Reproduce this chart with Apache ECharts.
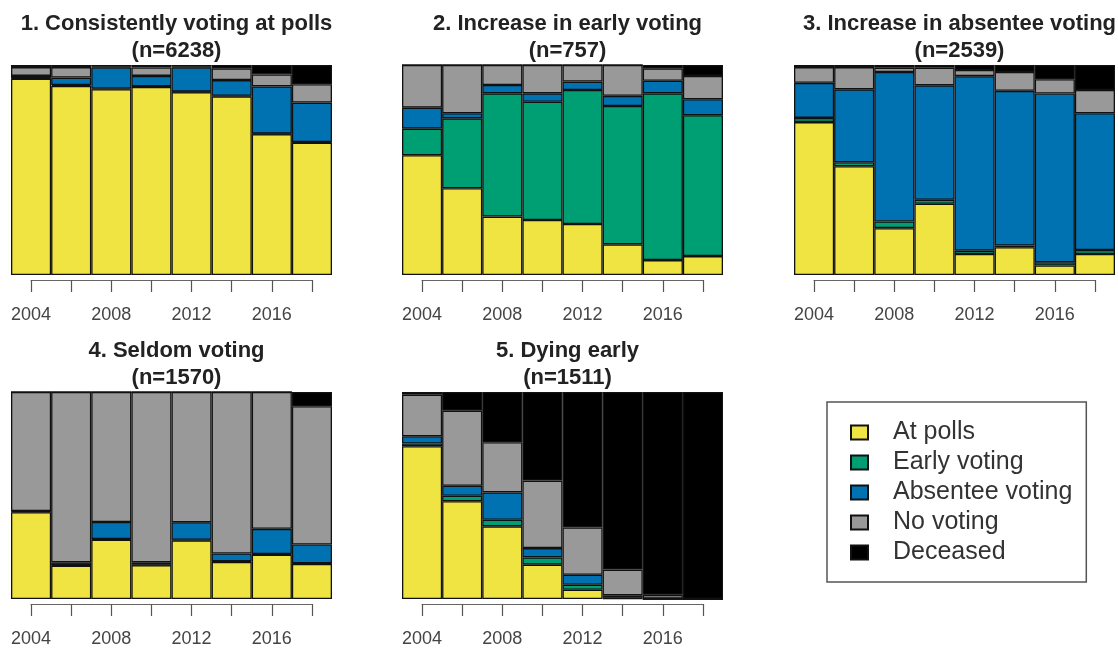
<!DOCTYPE html>
<html>
<head>
<meta charset="utf-8">
<script src="https://cdn.jsdelivr.net/npm/echarts@6/dist/echarts.min.js"></script>
<style>
  html, body { margin: 0; padding: 0; background: #fff; }
  #chart { width: 1118px; height: 649px; }
</style>
</head>
<body>
<div id="chart"></div>
<script>
// years on the x axis, every bar is one election
const years = ['2004', '2006', '2008', '2010', '2012', '2014', '2016', '2018'];
const seriesNames = ['At polls', 'Early voting', 'Absentee voting', 'No voting', 'Deceased'];
const colors = ['#F0E442', '#009E73', '#0072B2', '#999999', '#000000'];

const titles = [
  '1. Consistently voting at polls',
  '2. Increase in early voting',
  '3. Increase in absentee voting',
  '4. Seldom voting',
  '5. Dying early',
];
const sizes = [6238, 757, 2539, 1570, 1511];

// shares (%) per group
const polls1 = [93.5, 90, 88.5, 89.5, 87, 85, 67, 63];
const early1 = [0.3, 0.5, 0.3, 0.3, 0.3, 0.3, 0.3, 0.3];
const absentee1 = [1, 3.5, 10, 5, 11.5, 7.5, 22.5, 18.8];
const none1 = [4.2, 5, 0.5, 4, 0.5, 5.6, 5.7, 8.7];
const deceased1 = [1, 1, 0.7, 1.2, 0.7, 1.6, 4.5, 9.2];

const polls2 = [57, 41.3, 27.8, 26.2, 24.3, 14.6, 7.1, 9];
const early2 = [12.7, 33.3, 58.7, 56.3, 63.8, 65.9, 79.4, 67.1];
const absentee2 = [10, 2.4, 4, 4, 4, 4.8, 6, 7.6];
const none2 = [20.3, 23, 9.5, 13.5, 7.9, 14.7, 5.9, 11.1];
const deceased2 = [0, 0, 0, 0, 0, 0, 1.6, 5.2];

const polls3 = [72.8, 51.8, 22.3, 33.9, 10, 13.2, 4.5, 10];
const early3 = [2, 1.9, 3.2, 1.9, 1.6, 0.8, 1.6, 1.9];
const absentee3 = [16.7, 34.7, 71.2, 54.5, 83.1, 73.7, 80.3, 65.1];
const none3 = [7.5, 10.6, 2, 8.4, 2.9, 9, 6.8, 11.1];
const deceased3 = [1, 1, 1.3, 1.3, 2.4, 3.3, 6.8, 11.9];

const polls4 = [41.9, 16.1, 28.7, 16.3, 28.3, 17.9, 21.4, 16.9];
const early4 = [0.3, 0.2, 0.3, 0.2, 0.3, 0.3, 0.3, 0.3];
const absentee4 = [0.3, 1.4, 8.2, 1.2, 8.5, 3.8, 12.2, 9.1];
const none4 = [57.5, 82.3, 62.8, 82.3, 62.9, 78, 66.1, 66.8];
const deceased4 = [0, 0, 0, 0, 0, 0, 0, 6.9];

const polls5 = [73.8, 47.2, 35.1, 16.6, 4.5, 0.3, 0, 0];
const early5 = [1.3, 2.7, 3.2, 3.5, 2.4, 0.3, 0, 0];
const absentee5 = [3.5, 4.8, 13.2, 4.5, 4.8, 1.2, 0.2, 0];
const none5 = [20.1, 36.3, 24.2, 32.6, 22.9, 12.4, 1.8, 0];
const deceased5 = [1.3, 9, 24.3, 42.8, 65.4, 85.8, 98, 100];

const panelData = [
  [polls1, early1, absentee1, none1, deceased1],
  [polls2, early2, absentee2, none2, deceased2],
  [polls3, early3, absentee3, none3, deceased3],
  [polls4, early4, absentee4, none4, deceased4],
  [polls5, early5, absentee5, none5, deceased5],
];

// layout of the five plots
const boxes = [
  { left: 11, top: 65, height: 210, titleTop: 5 },
  { left: 402, top: 65, height: 210, titleTop: 5 },
  { left: 794, top: 65, height: 210, titleTop: 5 },
  { left: 11, top: 392, height: 207, titleTop: 332 },
  { left: 402, top: 392, height: 207, titleTop: 332 },
];
const plotW = 321;
const font = '"Liberation Sans", Arial, Helvetica, sans-serif';

const grid = [];
const xAxis = [];
const yAxis = [];
const series = [];
const title = [];

boxes.forEach((b, i) => {
  const g = i * 2;
  grid.push({ left: b.left, top: b.top, width: plotW, height: b.height });
  // R-style axis: line only from first to last tick
  grid.push({ left: b.left + plotW / 16, top: b.top + b.height + 4, width: plotW * 7 / 8, height: 1 });

  xAxis.push({ type: 'category', gridIndex: g, data: years, show: false });
  yAxis.push({ type: 'value', gridIndex: g, min: 0, max: 100, show: false });
  xAxis.push({
    type: 'category',
    gridIndex: g + 1,
    data: years,
    boundaryGap: false,
    axisLine: { lineStyle: { color: '#666', width: 1 } },
    axisTick: { interval: 0, length: 12, lineStyle: { color: '#555', width: 1.2 } },
    axisLabel: { interval: 1, margin: 26, fontSize: 18, color: '#444', fontFamily: font },
    splitLine: { show: false },
  });
  yAxis.push({ type: 'value', gridIndex: g + 1, show: false });

  panelData[i].forEach((vals, k) => {
    series.push({
      name: seriesNames[k],
      type: 'bar',
      xAxisIndex: g,
      yAxisIndex: g,
      stack: 'p' + i,
      data: vals,
      barCategoryGap: '0%',
      itemStyle: { color: colors[k], borderColor: '#111', borderWidth: 1.3 },
    });
  });

  title.push({
    text: titles[i] + '\n(n=' + sizes[i] + ')',
    left: b.left + plotW / 2,
    top: b.titleTop,
    textAlign: 'center',
    textStyle: { fontSize: 22, fontWeight: 'bold', lineHeight: 27, color: '#222', fontFamily: font },
  });
});

const chart = echarts.init(document.getElementById('chart'));
chart.setOption({
  animation: false,
  backgroundColor: '#fff',
  title,
  legend: {
    data: seriesNames,
    orient: 'vertical',
    left: 827,
    top: 402,
    icon: 'rect',
    itemWidth: 17,
    itemHeight: 14,
    itemGap: 5,
    selectedMode: false,
    borderColor: '#555',
    borderWidth: 1.5,
    padding: [18, 14, 17, 23],
    textStyle: { fontSize: 25, lineHeight: 25, color: '#333', fontFamily: font, padding: [0, 0, 0, 20] },
  },
  grid,
  xAxis,
  yAxis,
  series,
});
</script>
</body>
</html>
